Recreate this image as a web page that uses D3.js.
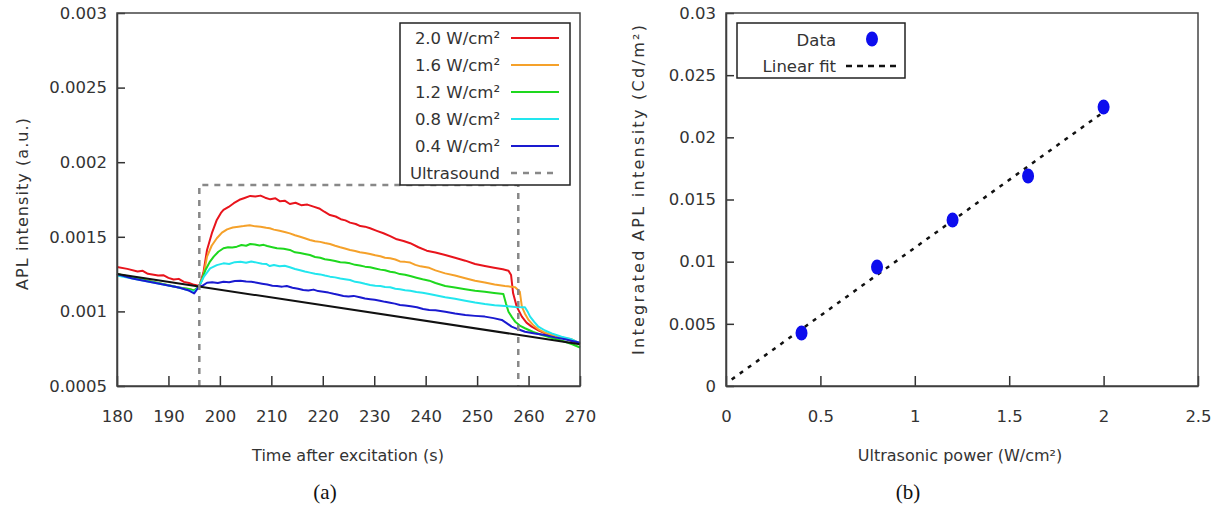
<!DOCTYPE html>
<html>
<head>
<meta charset="utf-8">
<script src="https://cdn.jsdelivr.net/npm/d3@7"></script>
<style>
  body { margin: 0; background: #fff; }
  svg text { font-family: "DejaVu Sans", sans-serif; fill: #333; }
  .axis path, .axis line { stroke: #333; }
</style>
</head>
<body>
<svg id="fig" width="1222" height="507"></svg>
<script>
// ---- panel (a): APL decay curves ----
var timeTicks = [180, 190, 200, 210, 220, 230, 240, 250, 260, 270];
var aplTicks = [0.0005, 0.001, 0.0015, 0.002, 0.0025, 0.003];
var seriesLabels = ["2.0 W/cm²", "1.6 W/cm²", "1.2 W/cm²", "0.8 W/cm²", "0.4 W/cm²"];
var seriesColors = ["#e8141c", "#f5a12a", "#1ed81e", "#22e6ee", "#1a1ad0"];
var ultrasound = [196, 258, 0.001847]; // on, off, box top

var red = [[180,0.001298],[182,0.001285],[184,0.001268],[185,0.001272],[186,0.001252],[188,0.001240],[189,0.001243],[190,0.001225],[191,0.001214],[192,0.001218],[193,0.001198],[194,0.001190],[195,0.001178],[196,0.001170],
  [196.8,0.001260],[197.5,0.001412],[198.5,0.001530],[199.4,0.001613],[200.2,0.001660],[200.7,0.001680],[201.7,0.001700],[202.7,0.001725],[203.8,0.001748],[204.8,0.001760],[205.9,0.001774],[206.9,0.001770],[207.9,0.001776],[208.8,0.001762],[209.8,0.001751],[210.8,0.001758],[211.7,0.001738],[212.6,0.001742],[213.6,0.001720],[214.7,0.001728],[215.8,0.001712],[217,0.001716],[218.2,0.001702],[219.3,0.001690],[220.3,0.001668],[221.4,0.001646],[222.5,0.001636],[223.5,0.001618],[224.4,0.001610],[225.3,0.001595],[226.4,0.001586],[227.3,0.001572],[228.2,0.001568],[229.2,0.001557],[230.5,0.001540],[231.8,0.001524],[233.1,0.001505],[234.4,0.001483],[235.7,0.001472],[237,0.001457],[238.6,0.001430],[240.2,0.001407],[241.9,0.001395],[243.8,0.001378],[245.7,0.001360],[247.7,0.001340],[249.6,0.001318],[251.5,0.001304],[253.3,0.001292],[255,0.001282],[256.1,0.001273],[256.6,0.001244],[257,0.001121],[257.7,0.001032],[258.7,0.000965],[259.6,0.000925],[260.6,0.000898],[262,0.000872],[263.2,0.000853],[265,0.000836],[267.1,0.000820],[268.5,0.000800],[270,0.000782]];

var orange = [[180,0.00125],[184,0.00122],[188,0.00119],[192,0.00116],[194,0.00115],[195,0.00114],[196,0.00117],
  [196.8,0.00124],[197.5,0.001367],[198.4,0.00144],[199.4,0.00149],[200.4,0.001528],[201.4,0.00155],[202.5,0.001562],[203.6,0.001568],[204.6,0.001572],[205.8,0.001578],[206.9,0.001570],[207.9,0.001568],[209,0.001560],[209.7,0.001557],[210.5,0.001548],[211.6,0.001540],[212.6,0.001532],[213.6,0.001523],[214.6,0.001510],[215.6,0.001500],[216.5,0.001490],[217.5,0.001479],[218.5,0.001470],[219.5,0.001466],[220.4,0.001458],[221.4,0.001452],[222.4,0.001440],[223.4,0.001430],[224.3,0.001422],[225.3,0.001412],[226.3,0.001405],[227.2,0.001396],[228.2,0.001392],[229.2,0.001385],[230.2,0.001376],[231.2,0.001370],[232.1,0.001360],[233.1,0.001356],[234.1,0.001348],[235,0.001335],[236,0.001332],[237,0.001327],[238,0.001312],[239,0.001302],[240.7,0.001292],[241.9,0.001275],[243.8,0.001255],[245.7,0.001240],[247.7,0.001222],[249.6,0.001205],[251.5,0.001193],[253.4,0.001180],[255.4,0.001170],[256.5,0.001166],[257.4,0.001162],[258.3,0.001132],[258.7,0.001032],[259.3,0.000985],[260,0.000943],[261,0.000905],[261.9,0.00088],[263.2,0.000858],[264.5,0.000842],[266.4,0.000826],[268.4,0.000813],[270,0.000785]];

var green = [[180,0.00125],[184,0.00122],[188,0.00119],[192,0.00116],[194,0.00115],[195,0.00114],[196,0.00117],
  [196.5,0.00121],[197.2,0.001278],[198,0.00133],[198.8,0.001367],[199.7,0.0014],[200.7,0.001423],[201.6,0.001430],[202.4,0.001428],[203.3,0.001434],[204.2,0.001445],[205.1,0.001440],[205.9,0.001452],[206.8,0.001448],[207.7,0.001442],[208.5,0.001446],[209.2,0.001438],[210.2,0.001430],[211.1,0.001423],[212.4,0.001420],[213.6,0.001412],[214.6,0.001396],[215.6,0.001392],[216.5,0.001385],[217.5,0.001378],[218.5,0.001365],[219.5,0.001360],[220.4,0.001350],[221.4,0.001345],[222.4,0.001338],[223.4,0.001330],[224.3,0.001328],[225.3,0.001322],[226.3,0.001312],[227.2,0.001308],[228.2,0.001300],[229.2,0.001296],[230.2,0.001288],[231.2,0.001280],[232.1,0.001276],[233.1,0.001266],[234.1,0.001260],[235,0.001250],[236,0.001246],[237,0.001237],[238.2,0.001226],[239.4,0.001215],[240.7,0.001206],[241.9,0.001190],[243.8,0.001170],[245.7,0.001160],[247.7,0.001148],[249.6,0.001138],[251.5,0.001132],[253.3,0.001124],[255.1,0.001117],[255.6,0.001054],[256.1,0.000998],[256.8,0.000960],[257.4,0.000931],[258.3,0.000905],[259.3,0.000887],[260.9,0.000862],[262.6,0.000842],[264.8,0.000820],[267.1,0.000797],[268.5,0.000780],[270,0.000758]];

var cyan = [[180,0.00124],[183,0.00122],[186,0.00120],[189,0.00118],[192,0.00116],[194,0.00114],[195,0.00113],[196,0.00117],
  [196.9,0.001233],[198.1,0.001289],[199.4,0.001310],[200.7,0.001322],[201.8,0.001318],[202.9,0.00133],[204,0.001333],[205.1,0.001326],[206.1,0.001335],[207.2,0.001327],[208.2,0.001320],[209,0.001318],[209.7,0.001304],[210.5,0.001311],[211.6,0.001302],[212.6,0.001306],[213.6,0.001296],[214.6,0.001284],[215.6,0.001276],[216.5,0.001268],[217.5,0.00126],[218.5,0.001252],[219.5,0.001248],[220.4,0.00124],[221.4,0.001233],[222.4,0.001228],[223.4,0.001220],[224.3,0.001216],[225.3,0.00121],[226.3,0.001198],[227.2,0.001194],[228.2,0.001185],[229.2,0.001177],[230.2,0.001172],[231.2,0.001170],[232.1,0.001164],[233.1,0.001162],[234.1,0.001152],[235,0.001148],[236,0.001142],[237,0.001139],[238.2,0.00113],[239.4,0.001125],[240.7,0.001117],[241.9,0.001108],[243.8,0.001095],[245.7,0.001085],[247.7,0.001072],[249.6,0.001060],[251.5,0.00105],[253.4,0.001042],[255.4,0.001036],[257.4,0.001030],[259.3,0.001028],[259.8,0.001000],[260.3,0.000965],[261.1,0.00093],[261.9,0.000898],[263.2,0.000872],[264.5,0.000853],[266.4,0.00083],[268.4,0.000813],[270,0.000786]];

var blue = [[180,0.00125],[183,0.00122],[186,0.0012],[189,0.00118],[192,0.00116],[194,0.00114],[195,0.00112],[196,0.00117],
  [196.5,0.00117],[197.5,0.001192],[198.5,0.001195],[199.6,0.00119],[200.7,0.001199],[201.8,0.001196],[202.9,0.001204],[204,0.001206],[205.1,0.0012],[206.1,0.001198],[207.2,0.001192],[208.2,0.001186],[209.2,0.00118],[210.2,0.001172],[211.1,0.00117],[212.1,0.001166],[213,0.00117],[214.1,0.001158],[215.2,0.001152],[216.2,0.001144],[217.2,0.00114],[218.2,0.001146],[219.1,0.001136],[220.1,0.001132],[221.1,0.001126],[222.1,0.001118],[223,0.001112],[224,0.001103],[225,0.0011],[226,0.001104],[227.2,0.001095],[228.2,0.001086],[229.2,0.001082],[230.1,0.001078],[231.1,0.001072],[232.1,0.001064],[233.1,0.001058],[234,0.001052],[235,0.001043],[236,0.00104],[237.1,0.001034],[238.3,0.001028],[239.5,0.001016],[240.7,0.00101],[241.9,0.001008],[243.8,0.000998],[245.7,0.000986],[247.7,0.000976],[249.6,0.00097],[251.5,0.000965],[253.2,0.000955],[254.8,0.000943],[255.8,0.00092],[256.7,0.000898],[258,0.00088],[259.3,0.000864],[261.2,0.000852],[263.2,0.000842],[265.1,0.000826],[267.1,0.000813],[268.5,0.000802],[270,0.00079]];

var baseline = [[180, 0.00125], [270, 0.00078]];

// ---- panel (b): integrated intensity vs power ----
var powers = [0.4, 0.8, 1.2, 1.6, 2.0];
var integrated = [0.00426, 0.00957, 0.01335, 0.01689, 0.02244];
var powerTicks = [0, 0.5, 1, 1.5, 2, 2.5];
var intTicks = [0, 0.005, 0.01, 0.015, 0.02, 0.025, 0.03];

var svg = d3.select("#fig");

function frame(g, w, h) {
    g.append("rect")
        .attr("width", w).attr("height", h)
        .attr("fill", "none").attr("stroke", "#444").attr("stroke-width", 1.5);
}

function drawAxes(g, x, y, w, h, xTicks, yTicks) {
    var xa = g.append("g").attr("class", "axis")
        .attr("transform", "translate(0," + h + ")")
        .call(d3.axisBottom(x).tickValues(xTicks).tickSizeInner(-10).tickSizeOuter(0).tickPadding(24).tickFormat(d3.format("")));
    var ya = g.append("g").attr("class", "axis")
        .call(d3.axisLeft(y).tickValues(yTicks).tickSizeInner(-8).tickSizeOuter(0).tickPadding(10).tickFormat(d3.format("")));
    [xa, ya].forEach(function (a) {
        a.select(".domain").attr("stroke-width", 1.5);
        a.selectAll("line").attr("stroke-width", 1.5);
        a.selectAll("text").attr("font-size", 16.5).attr("fill", "#333")
            .style("font-family", '"DejaVu Sans", sans-serif');
    });
}

// Panel (a)
var ma = { left: 117, top: 13, width: 463, height: 373 };
var ga = svg.append("g").attr("transform", "translate(" + ma.left + "," + ma.top + ")");
var xa = d3.scaleLinear().domain([180, 270]).range([0, ma.width]);
var ya = d3.scaleLinear().domain([0.0005, 0.003]).range([ma.height, 0]);

var line = d3.line().x(function (d) { return xa(d[0]); }).y(function (d) { return ya(d[1]); });

var allSeries = [red, orange, green, cyan, blue];
allSeries.forEach(function (s, i) {
    ga.append("path").datum(s)
        .attr("fill", "none").attr("stroke", seriesColors[i]).attr("stroke-width", 2)
        .attr("stroke-linejoin", "round").attr("d", line);
});
ga.append("path").datum(baseline)
    .attr("fill", "none").attr("stroke", "#111").attr("stroke-width", 2).attr("d", line);

// ultrasound on/off box
ga.append("path")
    .datum([[ultrasound[0], 0.0005], [ultrasound[0], ultrasound[2]], [ultrasound[1], ultrasound[2]], [ultrasound[1], 0.0005]])
    .attr("fill", "none").attr("stroke", "#888").attr("stroke-width", 2.5)
    .attr("stroke-dasharray", "6,6").attr("d", line);

drawAxes(ga, xa, ya, ma.width, ma.height, timeTicks, aplTicks);
frame(ga, ma.width, ma.height);

// legend (a)
var la = svg.append("g").attr("transform", "translate(400,23)");
la.append("rect").attr("width", 170).attr("height", 162)
    .attr("fill", "#fff").attr("stroke", "#222").attr("stroke-width", 1.5);
var legendA = seriesLabels.concat(["Ultrasound"]);
legendA.forEach(function (lab, i) {
    var cy = 15 + i * 27;
    la.append("text").attr("x", 100).attr("y", cy).attr("dy", "0.35em")
        .attr("text-anchor", "end").attr("font-size", 16.5).text(lab);
    la.append("line").attr("x1", 111).attr("x2", 159).attr("y1", cy).attr("y2", cy)
        .attr("stroke", i < 5 ? seriesColors[i] : "#888")
        .attr("stroke-width", i < 5 ? 2 : 2.5)
        .attr("stroke-dasharray", i < 5 ? null : "6,6");
});

svg.append("text").attr("transform", "translate(22,204) rotate(-90)")
    .attr("text-anchor", "middle").attr("dy", "0.35em").attr("font-size", 16)
    .attr("textLength", 172).attr("lengthAdjust", "spacing")
    .text("APL intensity (a.u.)");
svg.append("text").attr("x", 348).attr("y", 455).attr("dy", "0.35em")
    .attr("text-anchor", "middle").attr("font-size", 16)
    .text("Time after excitation (s)");
svg.append("text").attr("x", 325).attr("y", 492).attr("dy", "0.35em")
    .attr("text-anchor", "middle").attr("font-size", 21)
    .style("font-family", '"Liberation Serif", "DejaVu Serif", serif').style("fill", "#111")
    .text("(a)");

// Panel (b)
var mb = { left: 726, top: 13, width: 472, height: 373 };
var gb = svg.append("g").attr("transform", "translate(" + mb.left + "," + mb.top + ")");
var xb = d3.scaleLinear().domain([0, 2.5]).range([0, mb.width]);
var yb = d3.scaleLinear().domain([0, 0.03]).range([mb.height, 0]);

// least squares fit of the data
var mx = d3.mean(powers), my = d3.mean(integrated);
var sxy = d3.sum(powers, function (p, i) { return (p - mx) * (integrated[i] - my); });
var sxx = d3.sum(powers, function (p) { return (p - mx) * (p - mx); });
var slope = sxy / sxx, icpt = my - slope * mx;
var fitX = [0.03, 2.0];

gb.append("line")
    .attr("x1", xb(fitX[0])).attr("y1", yb(icpt + slope * fitX[0]))
    .attr("x2", xb(fitX[1])).attr("y2", yb(icpt + slope * fitX[1]))
    .attr("stroke", "#111").attr("stroke-width", 2.5).attr("stroke-dasharray", "4,6");

gb.selectAll(".dot").data(powers).enter().append("ellipse")
    .attr("class", "dot")
    .attr("cx", function (d) { return xb(d); })
    .attr("cy", function (d, i) { return yb(integrated[i]); })
    .attr("rx", 6).attr("ry", 7.5).attr("fill", "#0d0dee");

drawAxes(gb, xb, yb, mb.width, mb.height, powerTicks, intTicks);
frame(gb, mb.width, mb.height);

// legend (b)
var lb = svg.append("g").attr("transform", "translate(737,23)");
lb.append("rect").attr("width", 168).attr("height", 55)
    .attr("fill", "#fff").attr("stroke", "#222").attr("stroke-width", 1.5);
lb.append("text").attr("x", 99).attr("y", 17).attr("dy", "0.35em")
    .attr("text-anchor", "end").attr("font-size", 16.5).text("Data");
lb.append("ellipse").attr("cx", 135).attr("cy", 16).attr("rx", 6).attr("ry", 7.5).attr("fill", "#0d0dee");
lb.append("text").attr("x", 99).attr("y", 43).attr("dy", "0.35em")
    .attr("text-anchor", "end").attr("font-size", 16.5).text("Linear fit");
lb.append("line").attr("x1", 109).attr("x2", 160).attr("y1", 43).attr("y2", 43)
    .attr("stroke", "#111").attr("stroke-width", 2.5).attr("stroke-dasharray", "6,5");

svg.append("text").attr("transform", "translate(638,190) rotate(-90)")
    .attr("text-anchor", "middle").attr("dy", "0.35em").attr("font-size", 16)
    .attr("textLength", 330).attr("lengthAdjust", "spacing")
    .text("Integrated APL intensity (Cd/m²)");
svg.append("text").attr("x", 960).attr("y", 455).attr("dy", "0.35em")
    .attr("text-anchor", "middle").attr("font-size", 16)
    .text("Ultrasonic power (W/cm²)");
svg.append("text").attr("x", 908).attr("y", 492).attr("dy", "0.35em")
    .attr("text-anchor", "middle").attr("font-size", 21)
    .style("font-family", '"Liberation Serif", "DejaVu Serif", serif').style("fill", "#111")
    .text("(b)");
</script>
</body>
</html>
